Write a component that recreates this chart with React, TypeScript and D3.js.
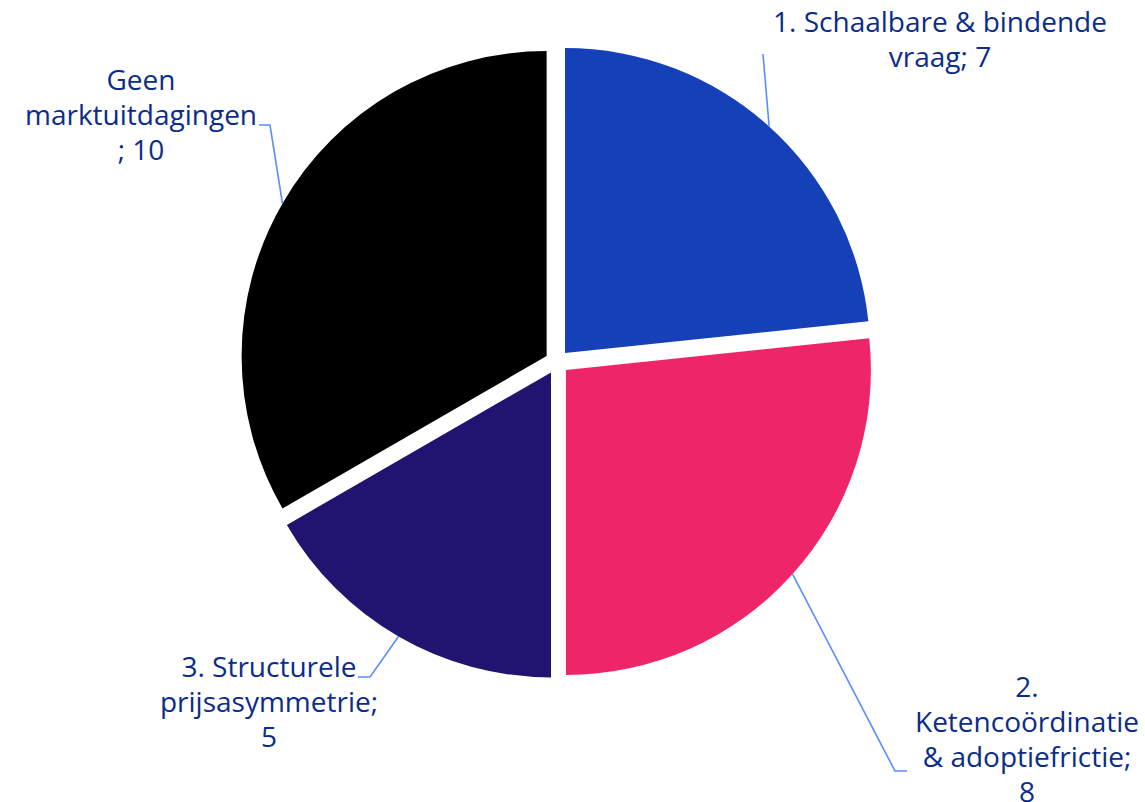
import React, { useEffect, useRef } from "react";
import * as d3 from "d3";

// chart data
const categories = [
  "1. Schaalbare & bindende vraag",
  "2. Ketencoördinatie & adoptiefrictie",
  "3. Structurele prijsasymmetrie",
  "Geen marktuitdagingen",
];
const values = [7, 8, 5, 10];
const labelLines = [
  ["1. Schaalbare & bindende", "vraag; 7"],
  ["2.", "Ketencoördinatie", "& adoptiefrictie;", "8"],
  ["3. Structurele", "prijsasymmetrie;", "5"],
  ["Geen", "marktuitdagingen", "; 10"],
];
const colors = ["#1540b8", "#ee2569", "#201470", "#000000"];

const W = 1145;
const H = 802;
const cx = 557;
const cy = 362;
const R = 305;
const explode = 12;
const lineH = 35;

// where each label sits: leader elbow, end and text anchor
const labelLayout = [
  { elbow: null, end: [763, 54], tx: 940, ty: 32 },
  { elbow: [895, 771], end: [907, 771], tx: 1027, ty: 697 },
  { elbow: [370, 677], end: [358, 677], tx: 269, ty: 677 },
  { elbow: [270, 125], end: [259, 125], tx: 141, ty: 90 },
];

const App = () => {
  const svgRef = useRef<SVGSVGElement>(null);

  useEffect(() => {
    const svg = d3.select(svgRef.current);
    svg.selectAll("*").remove();

    const pie = d3
      .pie<number>()
      .sort(null)
      .value((d) => d);
    const arcs = pie(values);
    const arc = d3.arc<d3.PieArcDatum<number>>().innerRadius(0).outerRadius(R);

    const g = svg.append("g").attr("transform", `translate(${cx},${cy})`);

    const offset = (a: d3.PieArcDatum<number>, r: number) => {
      const mid = (a.startAngle + a.endAngle) / 2;
      return [Math.sin(mid) * r, -Math.cos(mid) * r];
    };

    g.selectAll("path")
      .data(arcs)
      .join("path")
      .attr("transform", (d) => {
        const [ox, oy] = offset(d, explode);
        return `translate(${ox},${oy})`;
      })
      .attr("d", arc)
      .attr("fill", (d, i) => colors[i]);

    // leader lines + labels
    arcs.forEach((a, i) => {
      const [ox, oy] = offset(a, explode);
      const [px, py] = offset(a, R);
      const start: [number, number] = [cx + ox + px, cy + oy + py];
      const lay = labelLayout[i];
      const pts: [number, number][] = [start];
      if (lay.elbow) pts.push(lay.elbow as [number, number]);
      pts.push(lay.end as [number, number]);
      svg
        .append("path")
        .attr("d", d3.line()(pts))
        .attr("fill", "none")
        .attr("stroke", "#5a8dff")
        .attr("stroke-width", 1.6);

      const t = svg
        .append("text")
        .attr("x", lay.tx)
        .attr("y", lay.ty)
        .attr("text-anchor", "middle")
        .attr("fill", "#0b2c8a")
        .attr("font-family", "'Open Sans', Lato, sans-serif")
        .attr("font-size", 28);
      labelLines[i].forEach((ln, k) => {
        t.append("tspan")
          .attr("x", lay.tx)
          .attr("y", lay.ty + k * lineH)
          .text(ln);
      });
    });
  }, []);

  return (
    <svg
      ref={svgRef}
      width={W}
      height={H}
      style={{ display: "block", position: "absolute", left: 0, top: 0 }}
    />
  );
};

export default App;
